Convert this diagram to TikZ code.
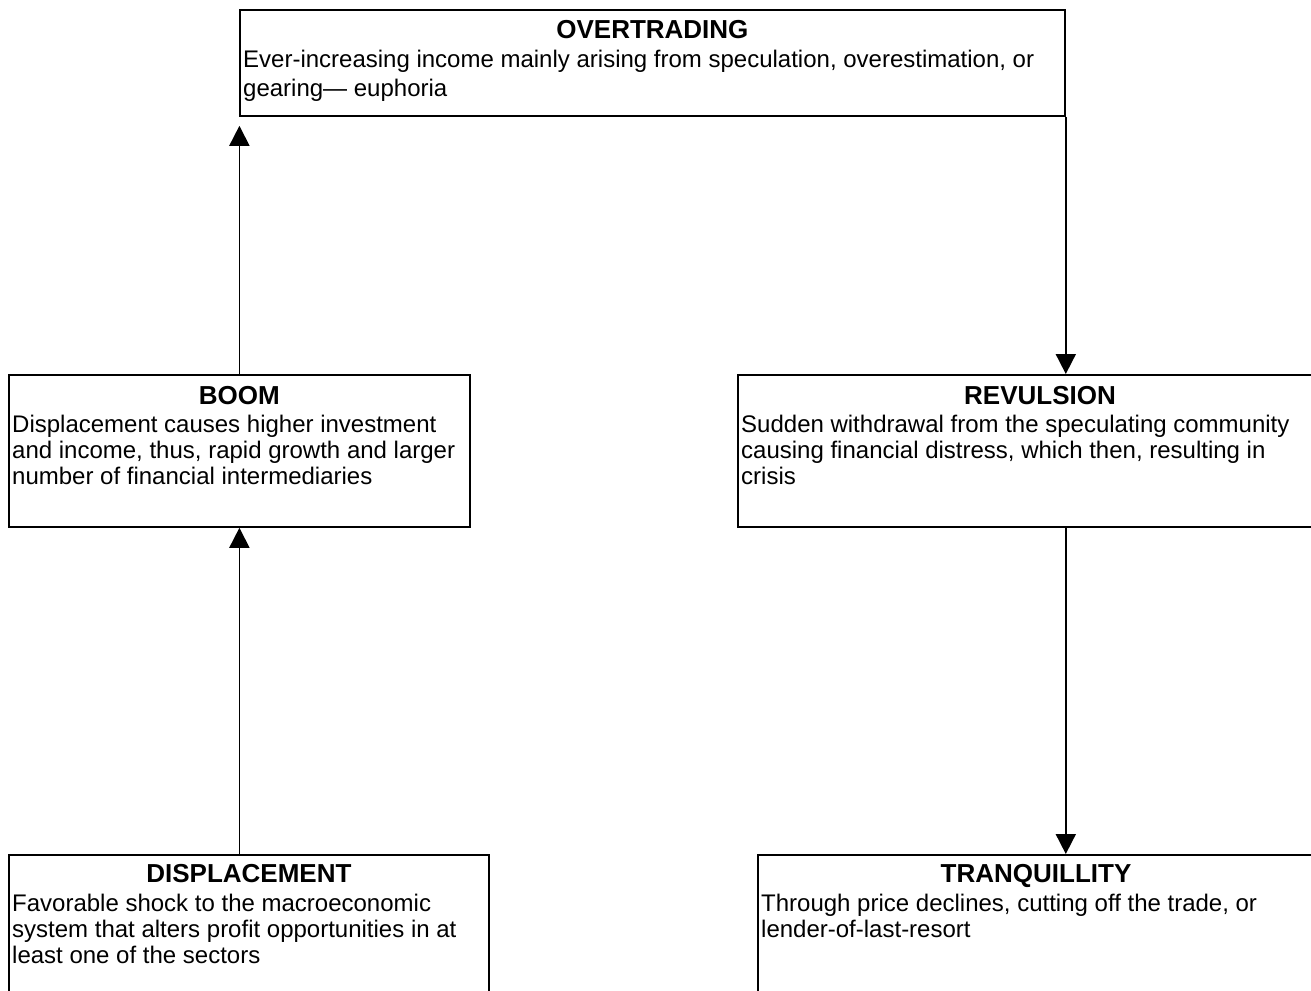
\documentclass[tikz,border=0pt]{standalone}
\usepackage{fontspec}
\setmainfont{Liberation Sans}
\usetikzlibrary{arrows.meta}
\begin{document}
\begin{tikzpicture}[x=1pt,y=1pt,
  box/.style={draw, line width=1.8pt, rectangle, inner sep=0pt, anchor=north west},
  ttl/.style={font=\fontsize{26}{28}\selectfont\bfseries, anchor=base, inner sep=0pt},
  body/.style={font=\fontsize{24}{26}\selectfont, anchor=base west, align=left, inner sep=0pt},
  arr/.style={line width=1.8pt, -{Triangle[length=20pt,width=20pt]}}]
\useasboundingbox (0,0) rectangle (1311,-990);
\clip (0,0) rectangle (1311,-990);
\node[box, minimum width=825pt, minimum height=106pt] (over) at (239,-9) {};
\node[box, minimum width=461pt, minimum height=152pt] (boom) at (8,-374) {};
\node[box, minimum width=600pt, minimum height=152pt] (rev) at (737,-374) {};
\node[box, minimum width=480pt, minimum height=160pt] (disp) at (8,-854) {};
\node[box, minimum width=600pt, minimum height=160pt] (tranq) at (757,-854) {};

% body nodes: base anchor is the baseline of the last line
\node[ttl] (overT) at ([yshift=-29pt]over.north) {OVERTRADING};
\node[body, font=\fontsize{24}{29}\selectfont] (overB) at ([xshift=4pt,yshift=-87pt]over.north west)
  {Ever-increasing income mainly arising from speculation, overestimation, or\\gearing\textemdash\ euphoria};

\node[ttl] (boomT) at ([yshift=-30pt]boom.north) {BOOM};
\node[body] (boomB) at ([xshift=4pt,yshift=-110pt]boom.north west)
  {Displacement causes higher investment\\and income, thus, rapid growth and larger\\number of financial intermediaries};

\node[ttl] (revT) at ([yshift=-30pt]rev.north -| 1040,0) {REVULSION};
\node[body] (revB) at ([xshift=4pt,yshift=-110pt]rev.north west)
  {Sudden withdrawal from the speculating community\\causing financial distress, which then, resulting in\\crisis};

\node[ttl] (dispT) at ([yshift=-28pt]disp.north) {DISPLACEMENT};
\node[body] (dispB) at ([xshift=4pt,yshift=-109pt]disp.north west)
  {Favorable shock to the macroeconomic\\system that alters profit opportunities in at\\least one of the sectors};

\node[ttl] (tranqT) at ([yshift=-28pt]tranq.north -| 1036,0) {TRANQUILLITY};
\node[body] (tranqB) at ([xshift=4pt,yshift=-83pt]tranq.north west)
  {Through price declines, cutting off the trade, or\\lender-of-last-resort};

\draw[arr, shorten >=9pt] (boom.north) -- (boom.north |- over.south);
\draw[arr] (boom.south |- disp.north) -- (boom.south);
\draw[arr] (over.south east) -- (over.south east |- rev.north);
\draw[arr] (over.south east |- rev.south) -- (over.south east |- tranq.north);
\end{tikzpicture}
\end{document}
